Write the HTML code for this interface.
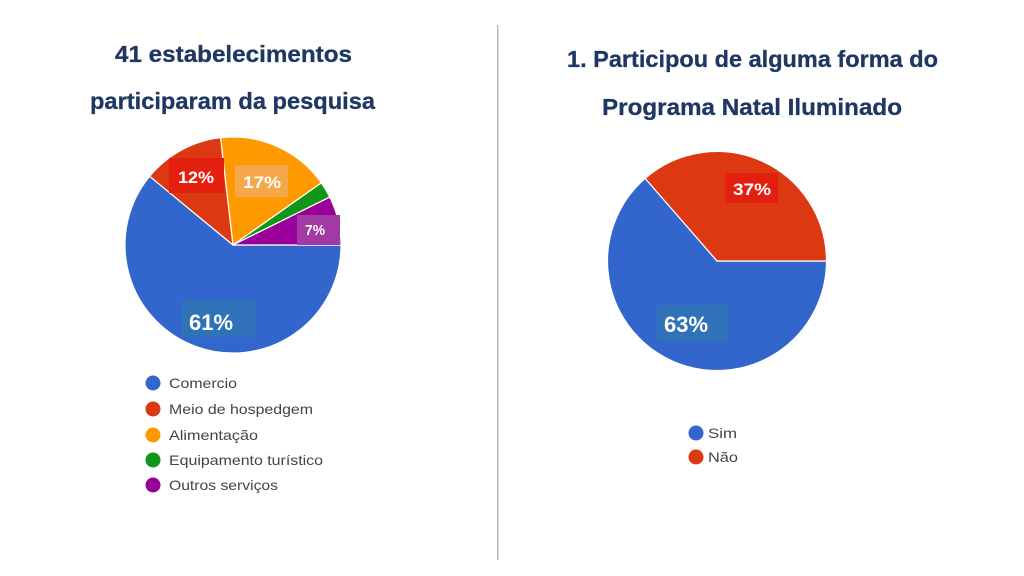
<!DOCTYPE html>
<html><head><meta charset="utf-8"><style>
html,body{margin:0;padding:0;background:#fff;}
svg{display:block;}
</style></head><body>
<svg width="1024" height="576" viewBox="0 0 1024 576" xmlns="http://www.w3.org/2000/svg">
<rect width="1024" height="576" fill="#ffffff"/>
<!-- divider -->
<rect x="497" y="25" width="1.5" height="535" fill="#a9bcc8"/>

<!-- titles -->
<g font-family="Liberation Sans, sans-serif" font-weight="bold" font-size="23" fill="#1f3763" stroke="#1f3763" stroke-width="0.3">
<text x="115" y="62" textLength="237" lengthAdjust="spacingAndGlyphs">41 estabelecimentos</text>
<text x="90" y="109" textLength="285" lengthAdjust="spacingAndGlyphs">participaram da pesquisa</text>
<text x="567" y="67" textLength="371" lengthAdjust="spacingAndGlyphs">1. Participou de alguma forma do</text>
<text x="602" y="115" textLength="300" lengthAdjust="spacingAndGlyphs">Programa Natal Iluminado</text>
</g>

<!-- left pie -->
<g stroke="#ffffff" stroke-width="1.2" stroke-linejoin="round">
<path d="M233,245 L341,245 A108,108 0 1 1 149.68,176.29 Z" fill="#3366cc"/>
<path d="M233,245 L149.68,176.29 A108,108 0 0 1 220.60,137.71 Z" fill="#dc3912"/>
<path d="M233,245 L220.60,137.71 A108,108 0 0 1 321.35,182.88 Z" fill="#ff9900"/>
<path d="M233,245 L321.35,182.88 A108,108 0 0 1 329.78,197.08 Z" fill="#109618"/>
<path d="M233,245 L329.78,197.08 A108,108 0 0 1 341,245 Z" fill="#990099"/>
</g>
<!-- left labels -->
<rect x="182" y="300" width="73" height="37" fill="#2f72b8"/>
<rect x="169" y="158" width="55" height="35" fill="#e3200f"/>
<rect x="235" y="165" width="53" height="32" fill="#f5a84a"/>
<rect x="297" y="215" width="43" height="30" fill="#a23aa6"/>
<g font-family="Liberation Sans, sans-serif" font-weight="bold" fill="#ffffff">
<text x="189" y="330" font-size="22" textLength="44" lengthAdjust="spacingAndGlyphs">61%</text>
<text x="178" y="183" font-size="17" textLength="36" lengthAdjust="spacingAndGlyphs">12%</text>
<text x="243" y="188" font-size="17" textLength="38" lengthAdjust="spacingAndGlyphs">17%</text>
<text x="305" y="235" font-size="15" textLength="20" lengthAdjust="spacingAndGlyphs">7%</text>
</g>

<!-- right pie -->
<g stroke="#ffffff" stroke-width="1.2" stroke-linejoin="round">
<path d="M717,261 L826.5,261 A109.5,109.5 0 1 1 645.16,178.36 Z" fill="#3366cc"/>
<path d="M717,261 L645.16,178.36 A109.5,109.5 0 0 1 826.5,261 Z" fill="#dc3912"/>
</g>
<rect x="657" y="305" width="71" height="37" fill="#2f72b8"/>
<rect x="725" y="173" width="53" height="30" fill="#e3200f"/>
<g font-family="Liberation Sans, sans-serif" font-weight="bold" fill="#ffffff">
<text x="664" y="332" font-size="22" textLength="44" lengthAdjust="spacingAndGlyphs">63%</text>
<text x="733" y="195" font-size="17" textLength="38" lengthAdjust="spacingAndGlyphs">37%</text>
</g>

<!-- left legend -->
<g>
<circle cx="153" cy="383" r="7.5" fill="#3366cc"/>
<circle cx="153" cy="409" r="7.5" fill="#dc3912"/>
<circle cx="153" cy="435" r="7.5" fill="#ff9900"/>
<circle cx="153" cy="460" r="7.5" fill="#109618"/>
<circle cx="153" cy="485" r="7.5" fill="#990099"/>
</g>
<g font-family="Liberation Sans, sans-serif" font-size="14" fill="#444444">
<text x="169" y="388" textLength="68" lengthAdjust="spacingAndGlyphs">Comercio</text>
<text x="169" y="414" textLength="144" lengthAdjust="spacingAndGlyphs">Meio de hospedgem</text>
<text x="169" y="440" textLength="89" lengthAdjust="spacingAndGlyphs">Alimentação</text>
<text x="169" y="465" textLength="154" lengthAdjust="spacingAndGlyphs">Equipamento turístico</text>
<text x="169" y="490" textLength="109" lengthAdjust="spacingAndGlyphs">Outros serviços</text>
</g>

<!-- right legend -->
<circle cx="696" cy="433" r="7.5" fill="#3366cc"/>
<circle cx="696" cy="457" r="7.5" fill="#dc3912"/>
<g font-family="Liberation Sans, sans-serif" font-size="14" fill="#444444">
<text x="708" y="438" textLength="29" lengthAdjust="spacingAndGlyphs">Sim</text>
<text x="708" y="462" textLength="30" lengthAdjust="spacingAndGlyphs">Não</text>
</g>
</svg>
</body></html>
